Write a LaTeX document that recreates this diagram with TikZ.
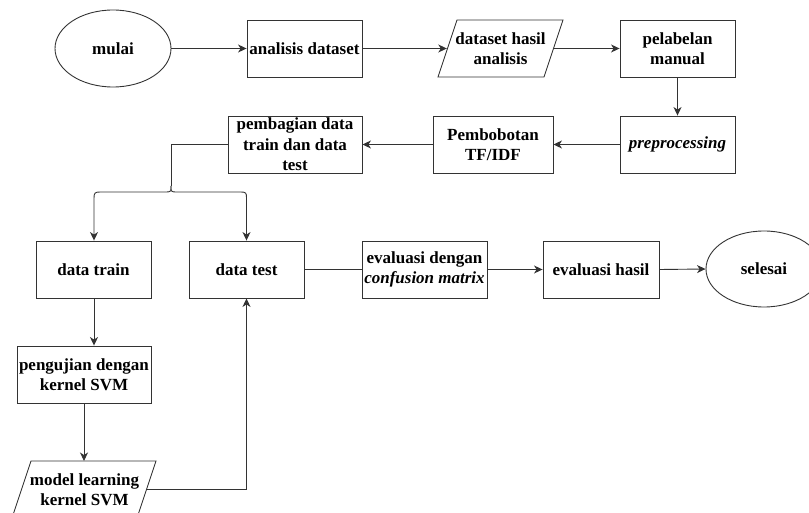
\documentclass[tikz,border=0pt]{standalone}
\usepackage{fontspec}
\setmainfont{Liberation Serif}
\usetikzlibrary{arrows.meta,shapes.geometric,calc}
\definecolor{ln}{HTML}{333333}
\tikzset{
  x=1pt,y=-1pt,
  base/.style={font=\fontsize{17}{20.5}\selectfont\bfseries, align=center, inner sep=0pt},
  box/.style={base, draw=ln, line width=0.9pt, rectangle, minimum height=57pt},
  oval/.style={base, draw=ln, line width=0.9pt, ellipse, minimum width=116pt, minimum height=77pt},
  txt/.style={base, rectangle, minimum height=57pt},
  pgram/.style={draw=ln, line width=0.9pt},
  conn/.style={draw=ln, line width=0.9pt},
  arr/.style={conn, -{Stealth[length=8.5pt,width=8pt,inset=2.5pt]}},
}
\begin{document}
\begin{tikzpicture}
\useasboundingbox (0,0) rectangle (809,513);
\clip (0,0) rectangle (809,513);
% nodes
\node[oval] (mulai) at (113,48.5) {mulai};
\node[box, minimum width=115pt] (anal) at (304.5,48.5) {analisis dataset};
\node[txt, minimum width=107pt] (dha) at (500.5,48.5) {dataset hasil\\analisis};
\draw[pgram] (438,77) -- (457,20) -- (563,20) -- (544,77) -- cycle;
\node[box, minimum width=115pt] (label) at (677.5,48.5) {pelabelan\\manual};
\node[box, minimum width=115pt] (prep) at (677.5,144.5) {\itshape preprocessing};
\node[box, minimum width=120pt] (bobot) at (493,144.5) {Pembobotan\\TF/IDF};
\node[box, minimum width=134pt] (bagi) at (295,144.5) {pembagian data\\train dan data\\test};
\node[box, minimum width=115pt] (train) at (93.5,269.5) {data train};
\node[box, minimum width=115pt] (test) at (246.5,269.5) {data test};
\node[box, minimum width=125pt] (evcm) at (424.5,269.5) {evaluasi dengan\\\itshape confusion matrix};
\node[box, minimum width=116pt] (evh) at (601,269.5) {evaluasi hasil};
\node[oval, minimum height=76pt] (selesai) at (764,269) {selesai};
\node[box, minimum width=134pt] (uji) at (84,374.5) {pengujian dengan\\kernel SVM};
\node[txt, minimum width=125.4pt] (model) at (84.5,489.5) {model learning\\kernel SVM};
\draw[pgram] (12,518) -- (31,461) -- (156,461) -- (137,518) -- cycle;
\coordinate (c94) at (94,0);
\coordinate (bx) at (171,144.5);
\coordinate (btip) at (171,186);
\coordinate (mtop) at (84,461);
% connectors
\draw[arr] (mulai.east) -- (anal.west);
\draw[arr] (anal.east) -- (dha.west);
\draw[arr] (dha.east) -- (label.west);
\draw[arr] (label.south) -- (prep.north);
\draw[arr] (prep.west) -- (bobot.east);
\draw[arr] (bobot.west) -- (bagi.east);
\draw[conn] (bagi.west) -- (bx) -- (btip);
\draw[arr] (btip) .. controls (171,191) and (172,192) .. (165,192) -- (100,192)
  .. controls (95,192) and (94,193) .. (94,198) -- (train.north -| c94);
\draw[arr] (btip) .. controls (171,191) and (170,192) .. (177,192) -- (241,192)
  .. controls (246,192) and (246.5,193) .. (246.5,198) -- (test.north);
\draw[conn] (test.east) -- (evcm.west);
\draw[arr] (evcm.east) -- (evh.west);
\draw[arr] (evh.east) -- (selesai.west);
\draw[arr] (train.south -| c94) -- (uji.north -| c94);
\draw[arr] (uji.south) -- (mtop);
\draw[arr] (model.east) -| (test.south);
\end{tikzpicture}
\end{document}
